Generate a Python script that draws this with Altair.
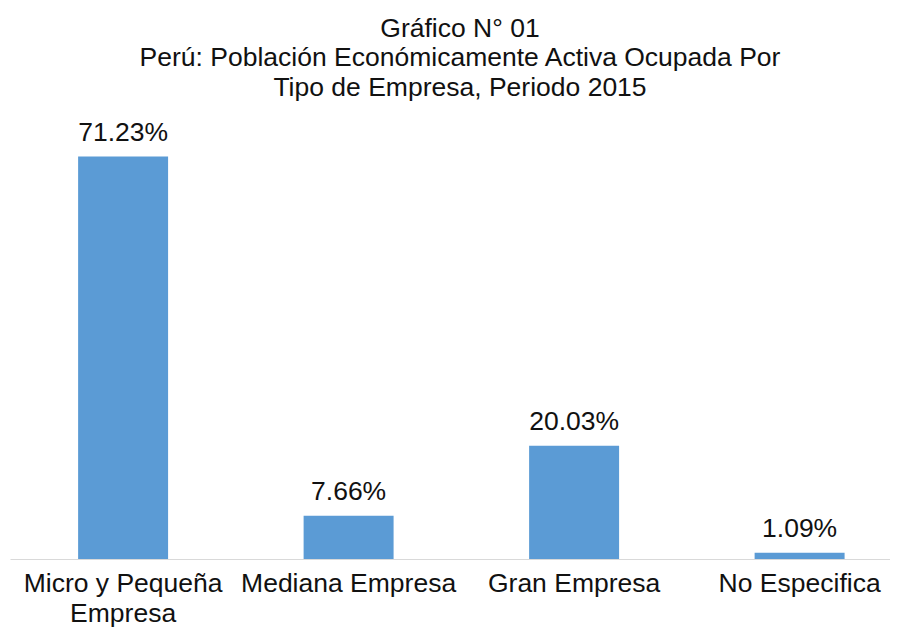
import altair as alt
import pandas as pd

categories = ["Micro y Pequeña Empresa", "Mediana Empresa", "Gran Empresa", "No Especifica"]
values = [71.23, 7.66, 20.03, 1.09]
title_lines = ["Gráfico N° 01",
               "Perú: Población Económicamente Activa Ocupada Por",
               "Tipo de Empresa, Periodo 2015"]

df = pd.DataFrame({"cat": categories, "value": values})

FONT = "Liberation Sans"
FS = 26.5

x_enc = alt.X(
    "cat:N",
    sort=categories,
    scale=alt.Scale(paddingInner=0.601, paddingOuter=0.2517, align=0.6),
    axis=alt.Axis(
        title=None,
        labelAngle=0,
        labelFont=FONT,
        labelFontSize=FS,
        labelColor="#111111",
        labelPadding=11,
        labelLineHeight=30,
        labelLimit=500,
        labelOverlap=False,
        labelExpr="datum.value == 'Micro y Pequeña Empresa' ? ['Micro y Pequeña', 'Empresa'] : datum.label",
        ticks=False,
        tickSize=0,
        grid=False,
        domainColor="#d9d9d9",
        domainWidth=1,
    ),
)
y_enc = alt.Y("value:Q", scale=alt.Scale(domain=[0, 80], nice=False), axis=None)

base = alt.Chart(df).encode(x=x_enc, y=y_enc)

bars = base.mark_bar(color="#5B9BD5")
labels = base.transform_calculate(
    lbl="format(datum.value, '.2f') + '%'"
).mark_text(
    font=FONT, fontSize=FS, color="#111111", baseline="alphabetic", align="center", dy=-16
).encode(text="lbl:N")

chart = (bars + labels).properties(
    width=880,
    height=452,
    autosize=alt.AutoSizeParams(type="none"),
    padding={"left": 2, "top": 99, "right": 0, "bottom": 68},
    title=alt.TitleParams(
        text=title_lines,
        font=FONT,
        fontSize=FS,
        fontWeight="normal",
        color="#111111",
        lineHeight=29.5,
        anchor="middle",
        offset=6,
        dx=10,
    ),
).configure_view(stroke=None)

chart.save("out.html", embed_options={"renderer": "svg", "actions": False})
